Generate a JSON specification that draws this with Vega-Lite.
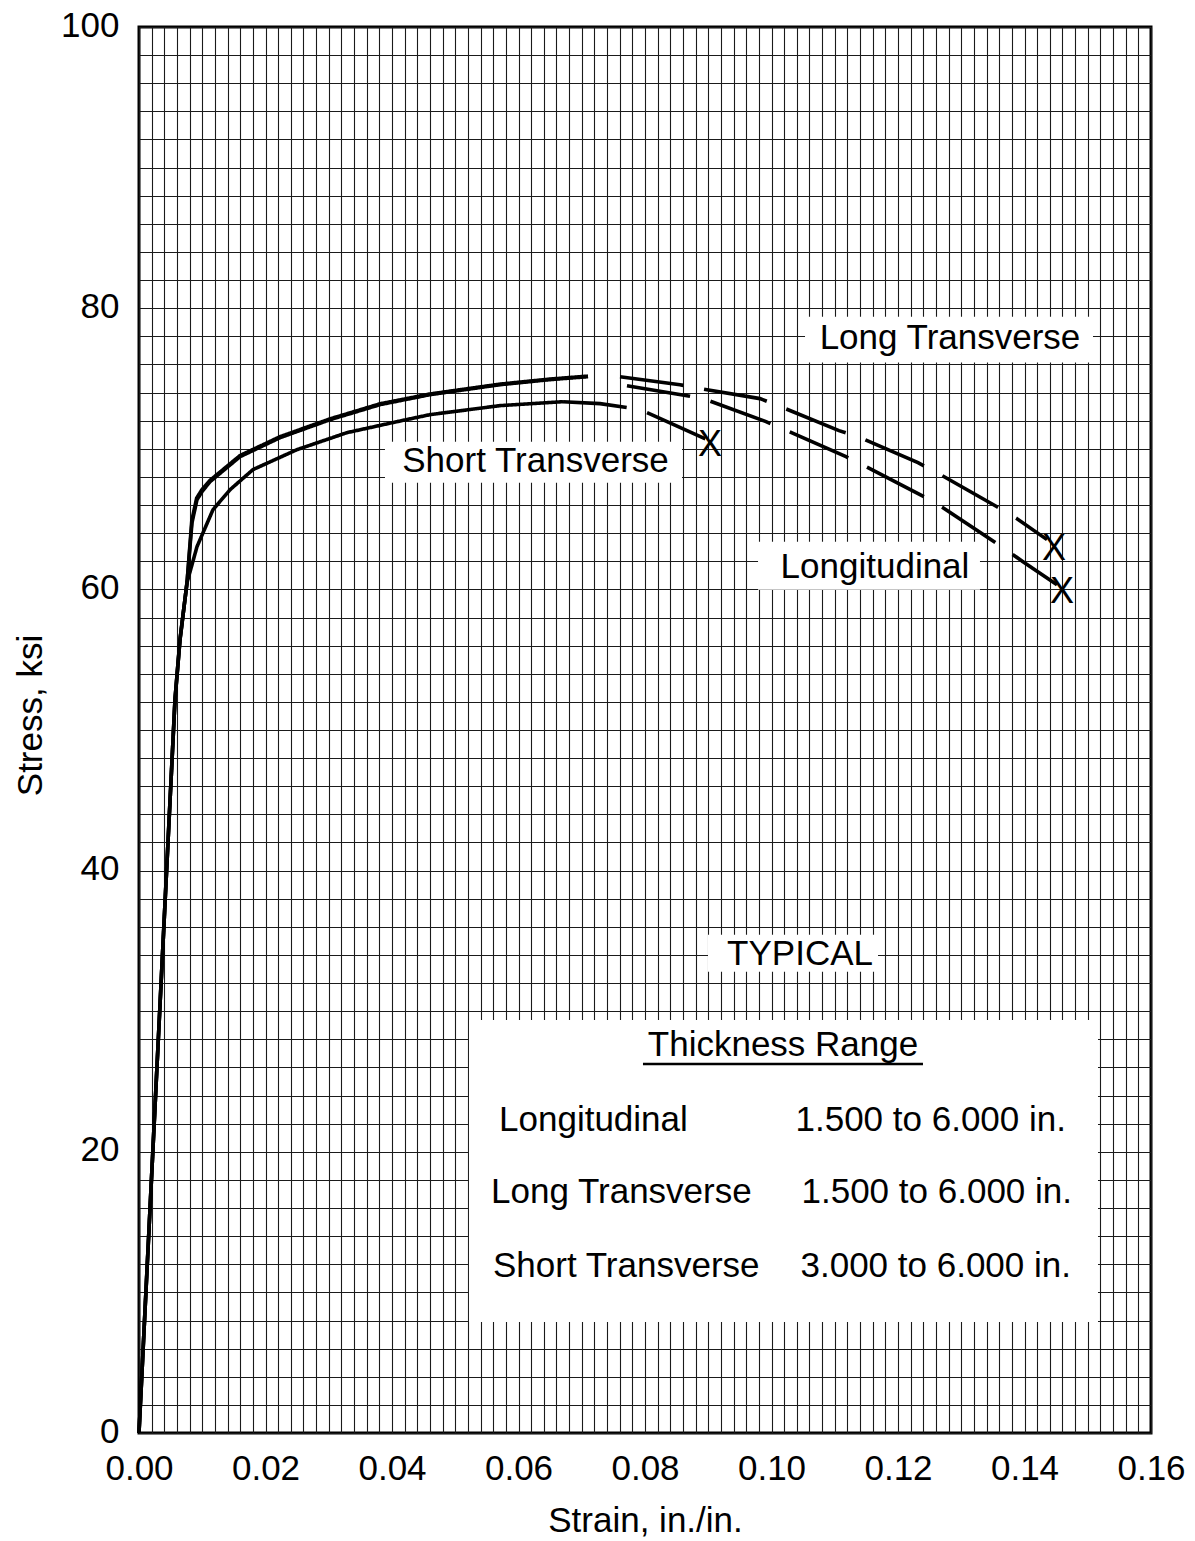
{
  "$schema": "https://vega.github.io/schema/vega-lite/v6.json",
  "width": 1012,
  "height": 1406,
  "autosize": {"type": "none"},
  "padding": {"left": 139, "top": 27, "right": 44, "bottom": 108},
  "background": "white",
  "config": {
    "view": {"stroke": "black", "strokeWidth": 3},
    "font": "Liberation Sans"
  },
  "datasets": {
    "curves": [
      {"direction": "Longitudinal", "portion": "test", "seq": 1, "strain": 0, "stress": 0},
      {"direction": "Longitudinal", "portion": "test", "seq": 2, "strain": 0.00569, "stress": 52.15},
      {"direction": "Longitudinal", "portion": "test", "seq": 3, "strain": 0.00648, "stress": 56.42},
      {"direction": "Longitudinal", "portion": "test", "seq": 4, "strain": 0.00759, "stress": 60.48},
      {"direction": "Longitudinal", "portion": "test", "seq": 5, "strain": 0.00838, "stress": 64.75},
      {"direction": "Longitudinal", "portion": "test", "seq": 6, "strain": 0.00917, "stress": 66.38},
      {"direction": "Longitudinal", "portion": "test", "seq": 7, "strain": 0.00996, "stress": 66.95},
      {"direction": "Longitudinal", "portion": "test", "seq": 8, "strain": 0.01123, "stress": 67.66},
      {"direction": "Longitudinal", "portion": "test", "seq": 9, "strain": 0.01597, "stress": 69.44},
      {"direction": "Longitudinal", "portion": "test", "seq": 10, "strain": 0.02229, "stress": 70.79},
      {"direction": "Longitudinal", "portion": "test", "seq": 11, "strain": 0.0302, "stress": 72.07},
      {"direction": "Longitudinal", "portion": "test", "seq": 12, "strain": 0.0381, "stress": 73.14},
      {"direction": "Longitudinal", "portion": "test", "seq": 13, "strain": 0.04601, "stress": 73.85},
      {"direction": "Longitudinal", "portion": "test", "seq": 14, "strain": 0.05708, "stress": 74.56},
      {"direction": "Longitudinal", "portion": "test", "seq": 15, "strain": 0.06498, "stress": 74.92},
      {"direction": "Longitudinal", "portion": "test", "seq": 16, "strain": 0.07099, "stress": 75.13},
      {"direction": "Longitudinal", "portion": "extrapolated", "seq": 17, "strain": 0.07715, "stress": 74.49},
      {"direction": "Longitudinal", "portion": "extrapolated", "seq": 18, "strain": 0.08664, "stress": 73.78},
      {"direction": "Longitudinal", "portion": "extrapolated", "seq": 19, "strain": 0.08964, "stress": 73.5},
      {"direction": "Longitudinal", "portion": "extrapolated", "seq": 20, "strain": 0.09913, "stress": 71.93},
      {"direction": "Longitudinal", "portion": "extrapolated", "seq": 21, "strain": 0.10213, "stress": 71.36},
      {"direction": "Longitudinal", "portion": "extrapolated", "seq": 22, "strain": 0.11178, "stress": 69.44},
      {"direction": "Longitudinal", "portion": "extrapolated", "seq": 23, "strain": 0.11462, "stress": 68.8},
      {"direction": "Longitudinal", "portion": "extrapolated", "seq": 24, "strain": 0.12411, "stress": 66.6},
      {"direction": "Longitudinal", "portion": "extrapolated", "seq": 25, "strain": 0.12711, "stress": 65.81},
      {"direction": "Longitudinal", "portion": "extrapolated", "seq": 26, "strain": 0.1366, "stress": 62.97},
      {"direction": "Longitudinal", "portion": "extrapolated", "seq": 27, "strain": 0.13976, "stress": 61.97},
      {"direction": "Longitudinal", "portion": "extrapolated", "seq": 28, "strain": 0.14514, "stress": 60.33},

      {"direction": "Long Transverse", "portion": "test", "seq": 1, "strain": 0, "stress": 0},
      {"direction": "Long Transverse", "portion": "test", "seq": 2, "strain": 0.00569, "stress": 52.15},
      {"direction": "Long Transverse", "portion": "test", "seq": 3, "strain": 0.00648, "stress": 56.42},
      {"direction": "Long Transverse", "portion": "test", "seq": 4, "strain": 0.00759, "stress": 60.48},
      {"direction": "Long Transverse", "portion": "test", "seq": 5, "strain": 0.00835, "stress": 64.9},
      {"direction": "Long Transverse", "portion": "test", "seq": 6, "strain": 0.00912, "stress": 66.5},
      {"direction": "Long Transverse", "portion": "test", "seq": 7, "strain": 0.00996, "stress": 67.1},
      {"direction": "Long Transverse", "portion": "test", "seq": 8, "strain": 0.01123, "stress": 67.76},
      {"direction": "Long Transverse", "portion": "test", "seq": 9, "strain": 0.01597, "stress": 69.52},
      {"direction": "Long Transverse", "portion": "test", "seq": 10, "strain": 0.02229, "stress": 70.86},
      {"direction": "Long Transverse", "portion": "test", "seq": 11, "strain": 0.0302, "stress": 72.13},
      {"direction": "Long Transverse", "portion": "test", "seq": 12, "strain": 0.0381, "stress": 73.2},
      {"direction": "Long Transverse", "portion": "test", "seq": 13, "strain": 0.04601, "stress": 73.9},
      {"direction": "Long Transverse", "portion": "test", "seq": 14, "strain": 0.05708, "stress": 74.6},
      {"direction": "Long Transverse", "portion": "test", "seq": 15, "strain": 0.06498, "stress": 74.96},
      {"direction": "Long Transverse", "portion": "test", "seq": 16, "strain": 0.07099, "stress": 75.17},
      {"direction": "Long Transverse", "portion": "extrapolated", "seq": 17, "strain": 0.07605, "stress": 75.13},
      {"direction": "Long Transverse", "portion": "extrapolated", "seq": 18, "strain": 0.08553, "stress": 74.56},
      {"direction": "Long Transverse", "portion": "extrapolated", "seq": 19, "strain": 0.0887, "stress": 74.28},
      {"direction": "Long Transverse", "portion": "extrapolated", "seq": 20, "strain": 0.09818, "stress": 73.57},
      {"direction": "Long Transverse", "portion": "extrapolated", "seq": 21, "strain": 0.10103, "stress": 73.07},
      {"direction": "Long Transverse", "portion": "extrapolated", "seq": 22, "strain": 0.11067, "stress": 71.29},
      {"direction": "Long Transverse", "portion": "extrapolated", "seq": 23, "strain": 0.11368, "stress": 70.86},
      {"direction": "Long Transverse", "portion": "extrapolated", "seq": 24, "strain": 0.12316, "stress": 69.01},
      {"direction": "Long Transverse", "portion": "extrapolated", "seq": 25, "strain": 0.12617, "stress": 68.3},
      {"direction": "Long Transverse", "portion": "extrapolated", "seq": 26, "strain": 0.13565, "stress": 65.88},
      {"direction": "Long Transverse", "portion": "extrapolated", "seq": 27, "strain": 0.13881, "stress": 65.03},
      {"direction": "Long Transverse", "portion": "extrapolated", "seq": 28, "strain": 0.14356, "stress": 63.54},

      {"direction": "Short Transverse", "portion": "test", "seq": 1, "strain": 0, "stress": 0},
      {"direction": "Short Transverse", "portion": "test", "seq": 2, "strain": 0.00569, "stress": 52.15},
      {"direction": "Short Transverse", "portion": "test", "seq": 3, "strain": 0.00648, "stress": 56.42},
      {"direction": "Short Transverse", "portion": "test", "seq": 4, "strain": 0.00759, "stress": 60.48},
      {"direction": "Short Transverse", "portion": "test", "seq": 5, "strain": 0.00917, "stress": 63.04},
      {"direction": "Short Transverse", "portion": "test", "seq": 6, "strain": 0.0117, "stress": 65.67},
      {"direction": "Short Transverse", "portion": "test", "seq": 7, "strain": 0.01439, "stress": 67.09},
      {"direction": "Short Transverse", "portion": "test", "seq": 8, "strain": 0.01802, "stress": 68.52},
      {"direction": "Short Transverse", "portion": "test", "seq": 9, "strain": 0.02498, "stress": 69.94},
      {"direction": "Short Transverse", "portion": "test", "seq": 10, "strain": 0.03289, "stress": 71.15},
      {"direction": "Short Transverse", "portion": "test", "seq": 11, "strain": 0.04079, "stress": 71.93},
      {"direction": "Short Transverse", "portion": "test", "seq": 12, "strain": 0.04601, "stress": 72.43},
      {"direction": "Short Transverse", "portion": "test", "seq": 13, "strain": 0.05708, "stress": 73.07},
      {"direction": "Short Transverse", "portion": "test", "seq": 14, "strain": 0.06704, "stress": 73.35},
      {"direction": "Short Transverse", "portion": "extrapolated", "seq": 15, "strain": 0.06704, "stress": 73.35},
      {"direction": "Short Transverse", "portion": "extrapolated", "seq": 16, "strain": 0.07289, "stress": 73.21},
      {"direction": "Short Transverse", "portion": "extrapolated", "seq": 17, "strain": 0.07715, "stress": 72.93},
      {"direction": "Short Transverse", "portion": "extrapolated", "seq": 18, "strain": 0.08, "stress": 72.64},
      {"direction": "Short Transverse", "portion": "extrapolated", "seq": 19, "strain": 0.0849, "stress": 71.65},
      {"direction": "Short Transverse", "portion": "extrapolated", "seq": 20, "strain": 0.0898, "stress": 70.65}
    ],
    "fractures": [
      {"direction": "Long Transverse", "strain": 0.14466, "stress": 62.9},
      {"direction": "Longitudinal", "strain": 0.14593, "stress": 59.85},
      {"direction": "Short Transverse", "strain": 0.09028, "stress": 70.3}
    ],
    "boxes": [
      {"box": "Long Transverse label", "strain": 0.1053, "strain2": 0.15083, "stress": 79.4, "stress2": 76.13},
      {"box": "Short Transverse label", "strain": 0.03889, "strain2": 0.08585, "stress": 70.51, "stress2": 67.59},
      {"box": "Longitudinal label", "strain": 0.09787, "strain2": 0.13296, "stress": 63.39, "stress2": 59.98},
      {"box": "TYPICAL", "strain": 0.08996, "strain2": 0.11684, "stress": 35.43, "stress2": 32.8},
      {"box": "Thickness table", "strain": 0.05217, "strain2": 0.15162, "stress": 29.38, "stress2": 7.9}
    ],
    "notes": [
      {"kind": "center", "text": "Long Transverse", "strain": 0.12822, "stress": 77.91},
      {"kind": "center", "text": "Short Transverse", "strain": 0.06269, "stress": 69.16},
      {"kind": "center", "text": "Longitudinal", "strain": 0.11636, "stress": 61.62},
      {"kind": "center", "text": "TYPICAL", "strain": 0.10451, "stress": 34.08},
      {"kind": "center", "text": "Thickness Range", "strain": 0.10182, "stress": 27.61},
      {"kind": "name", "text": "Longitudinal", "strain": 0.05692, "stress": 22.27},
      {"kind": "name", "text": "Long Transverse", "strain": 0.05565, "stress": 17.15},
      {"kind": "name", "text": "Short Transverse", "strain": 0.05597, "stress": 11.88},
      {"kind": "range", "text": "1.500 to 6.000 in.", "strain": 0.14656, "stress": 22.27},
      {"kind": "range", "text": "1.500 to 6.000 in.", "strain": 0.14751, "stress": 17.15},
      {"kind": "range", "text": "3.000 to 6.000 in.", "strain": 0.14735, "stress": 11.88}
    ],
    "underline": [
      {"strain": 0.07968, "strain2": 0.12395, "stress": 26.25}
    ]
  },
  "encoding": {
    "x": {
      "field": "strain",
      "type": "quantitative",
      "scale": {"domain": [0, 0.16], "nice": false, "zero": false},
      "axis": {
        "title": "Strain, in./in.",
        "tickCount": 80,
        "grid": true,
        "gridColor": "#1a1a1a",
        "gridWidth": 1.1,
        "gridOpacity": 1,
        "domain": false,
        "ticks": false,
        "labelExpr": "round(datum.value * 1000) % 20 == 0 ? format(datum.value, '.2f') : ''",
        "labelFont": "Liberation Sans",
        "labelFontSize": 35,
        "labelColor": "black",
        "labelPadding": 18,
        "labelOverlap": false,
        "labelFlush": false,
        "labelBound": false,
        "titleFont": "Liberation Sans",
        "titleFontSize": 35,
        "titleFontWeight": "normal",
        "titleColor": "black",
        "titleBaseline": "top",
        "titleY": 70
      }
    },
    "y": {
      "field": "stress",
      "type": "quantitative",
      "scale": {"domain": [0, 100], "nice": false, "zero": false},
      "axis": {
        "title": "Stress, ksi",
        "tickCount": 50,
        "grid": true,
        "gridColor": "#1a1a1a",
        "gridWidth": 1.1,
        "gridOpacity": 1,
        "domain": false,
        "ticks": false,
        "labelExpr": "round(datum.value) % 20 == 0 ? format(datum.value, 'd') : ''",
        "labelFont": "Liberation Sans",
        "labelFontSize": 35,
        "labelColor": "black",
        "labelPadding": 20,
        "labelOffset": -2,
        "labelOverlap": false,
        "labelFlush": false,
        "labelBound": false,
        "titleFont": "Liberation Sans",
        "titleFontSize": 35,
        "titleFontWeight": "normal",
        "titleColor": "black",
        "titleAngle": 270,
        "titleAlign": "center",
        "titleBaseline": "middle",
        "titleX": -109,
        "titleY": 688
      }
    }
  },
  "layer": [
    {
      "data": {"name": "boxes"},
      "mark": {"type": "rect", "fill": "white", "stroke": null},
      "encoding": {
        "x2": {"field": "strain2"},
        "y2": {"field": "stress2"}
      }
    },
    {
      "data": {"name": "curves"},
      "mark": {"type": "line", "color": "black", "strokeWidth": 3.6, "interpolate": "linear"},
      "encoding": {
        "detail": {"field": "direction", "type": "nominal"},
        "strokeDash": {
          "field": "portion",
          "type": "nominal",
          "scale": {"domain": ["test", "extrapolated"], "range": [[1, 0], [64, 21]]},
          "legend": null
        },
        "order": {"field": "seq", "type": "quantitative"}
      }
    },
    {
      "data": {"name": "fractures"},
      "mark": {"type": "text", "text": "X", "font": "Liberation Sans", "fontSize": 36, "color": "black", "align": "center", "baseline": "middle"}
    },
    {
      "data": {"name": "underline"},
      "mark": {"type": "rule", "color": "black", "strokeWidth": 2.5},
      "encoding": {
        "x2": {"field": "strain2"}
      }
    },
    {
      "data": {"name": "notes"},
      "transform": [{"filter": "datum.kind == 'center'"}],
      "mark": {"type": "text", "font": "Liberation Sans", "fontSize": 35, "color": "black", "align": "center", "baseline": "middle"},
      "encoding": {"text": {"field": "text"}}
    },
    {
      "data": {"name": "notes"},
      "transform": [{"filter": "datum.kind == 'name'"}],
      "mark": {"type": "text", "font": "Liberation Sans", "fontSize": 35, "color": "black", "align": "left", "baseline": "middle"},
      "encoding": {"text": {"field": "text"}}
    },
    {
      "data": {"name": "notes"},
      "transform": [{"filter": "datum.kind == 'range'"}],
      "mark": {"type": "text", "font": "Liberation Sans", "fontSize": 35, "color": "black", "align": "right", "baseline": "middle"},
      "encoding": {"text": {"field": "text"}}
    }
  ]
}
